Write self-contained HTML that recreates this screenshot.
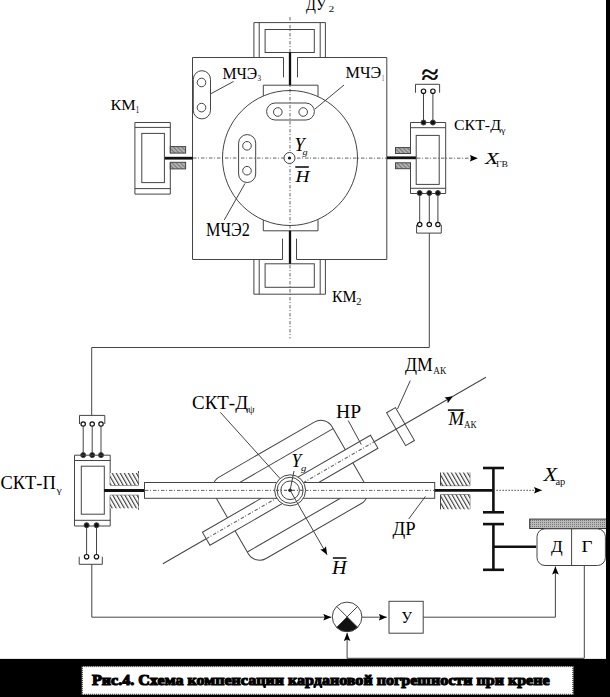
<!DOCTYPE html><html><head><meta charset="utf-8"><style>
html,body{margin:0;padding:0;background:#fff;width:610px;height:697px;overflow:hidden}
svg{display:block}
text{font-family:"Liberation Serif",serif;fill:#111}
.it{font-style:italic}
</style></head><body>
<svg width="610" height="697" viewBox="0 0 610 697">
<defs>
<pattern id="hatch" patternUnits="userSpaceOnUse" width="3.5" height="3.5" patternTransform="rotate(-30)">
<rect width="3.5" height="3.5" fill="#fff"/><line x1="0.6" y1="0" x2="0.6" y2="3.5" stroke="#222" stroke-width="1"/></pattern>
<pattern id="hatchs" patternUnits="userSpaceOnUse" width="3" height="3" patternTransform="rotate(-45)">
<rect width="3" height="3" fill="#b0b0b0"/><line x1="0.5" y1="0" x2="0.5" y2="3" stroke="#777" stroke-width="1"/></pattern>
<pattern id="dots" patternUnits="userSpaceOnUse" width="2" height="2">
<rect width="2" height="2" fill="#bbb"/><rect width="1" height="1" fill="#777"/></pattern>
<marker id="arr" markerWidth="9" markerHeight="8" refX="8" refY="3.3" orient="auto" markerUnits="userSpaceOnUse">
<path d="M0,0 L8,3.3 L0,6.6 L1.4,3.3 Z" fill="#000"/></marker>
</defs>
<g fill="none" stroke="#444" stroke-width="1">

<line x1="290" y1="17" x2="290" y2="338.5" stroke-dasharray="3.5 1.5 1 2" stroke="#666"/>
<line x1="193" y1="158" x2="477.8" y2="158.2" stroke-dasharray="3.5 1.5 1 2" stroke="#666" marker-end="url(#arr)"/>
<path d="M253.9,57.5 V22.6 H325.4 V57.5"/>
<path d="M259.2,57.5 V22.6 M320.2,57.5 V22.6"/>
<rect x="265.1" y="29.5" width="49.2" height="23"/>
<path d="M253.9,259.5 V294.2 H325.4 V259.5"/>
<path d="M259.2,259.5 V294.2 M320.2,259.5 V294.2"/>
<rect x="265.1" y="263.8" width="49.2" height="23.5"/>
<path d="M283.5,77.4 V57.5 H192.5 V259.5 H282.5 V238.6"/>
<path d="M297.5,77.4 V57.5 H386.8 V259.5 H296.5 V238.6"/>
<path d="M263.3,96.0 V85.2 H318 V96.6"/>
<path d="M263.3,220.0 V230.8 H318 V219.4"/>
<circle cx="290" cy="158" r="67.5"/>
<rect x="193.3" y="70.7" width="17.2" height="48.2" rx="8.6"/>
<circle cx="201.5" cy="82.5" r="4.3"/><circle cx="201.5" cy="107.6" r="4.3"/>
<rect x="266.6" y="103" width="47.8" height="17" rx="8.5"/>
<circle cx="277.8" cy="112" r="4.3"/><circle cx="303.2" cy="112" r="4.3"/>
<rect x="238.6" y="134.6" width="17.1" height="47.9" rx="8.5"/>
<circle cx="247" cy="145.8" r="4.3"/><circle cx="247" cy="170.7" r="4.3"/>
<line x1="210.9" y1="93.7" x2="233.5" y2="81.5"/>
<line x1="315" y1="109" x2="344" y2="85"/>
<line x1="245" y1="183.4" x2="224.3" y2="219.9"/>
<circle cx="289.5" cy="158" r="5.5" fill="#fff"/>
<circle cx="289.5" cy="158" r="1.6" fill="#111" stroke="none"/>
<line x1="290" y1="52.5" x2="290" y2="85.2" stroke="#111" stroke-width="2.3"/>
<line x1="290" y1="230.8" x2="290" y2="263.8" stroke="#111" stroke-width="2.3"/>
<line x1="164.4" y1="158.2" x2="192.8" y2="158.2" stroke="#111" stroke-width="2.8"/>
<line x1="387" y1="157.8" x2="416.2" y2="157.8" stroke="#111" stroke-width="2.8"/>
<path d="M170.3,152.7 V122.5 H134.9 V194.1 H170.3 V162.3"/>
<line x1="134.9" y1="127.4" x2="170.3" y2="127.4"/><line x1="134.9" y1="188.6" x2="170.3" y2="188.6"/>
<rect x="141.8" y="133.4" width="22.6" height="49.2"/>
<rect x="170.3" y="146.6" width="15.3" height="6.5" fill="url(#hatchs)"/>
<rect x="170.3" y="162.3" width="15.3" height="6.6" fill="url(#hatchs)"/>
<path d="M410.5,153.5 V122.5 H445.7 V193.5 H410.5 V162.8"/>
<line x1="410.5" y1="127.7" x2="445.7" y2="127.7"/><line x1="410.5" y1="188.3" x2="445.7" y2="188.3"/>
<rect x="416.2" y="135.4" width="23" height="49"/>
<rect x="395.5" y="147.6" width="15" height="5.9" fill="url(#hatchs)"/>
<rect x="395.5" y="162.8" width="15" height="5.9" fill="url(#hatchs)"/>
<path d="M415.5,92.7 V84.3 H439.6 V92.7"/>
<line x1="423.5" y1="93.3" x2="423.5" y2="122.5"/><line x1="432.9" y1="93.3" x2="432.9" y2="122.5"/>
<circle cx="423.5" cy="91.2" r="2.2" fill="#fff" stroke="#111" stroke-width="1.2"/><circle cx="432.9" cy="91.2" r="2.2" fill="#fff" stroke="#111" stroke-width="1.2"/>
<circle cx="423.5" cy="122.5" r="2.5" fill="#111"/><circle cx="432.9" cy="122.5" r="2.5" fill="#111"/>
<path d="M416.6,224.8 V233.1 H441.3 V224.8"/>
<line x1="419.7" y1="193" x2="419.7" y2="222.3"/>
<circle cx="419.7" cy="224.5" r="2.2" fill="#fff" stroke="#111" stroke-width="1.2"/>
<circle cx="419.7" cy="193" r="2.5" fill="#111"/>
<line x1="429.3" y1="193" x2="429.3" y2="222.3"/>
<circle cx="429.3" cy="224.5" r="2.2" fill="#fff" stroke="#111" stroke-width="1.2"/>
<circle cx="429.3" cy="193" r="2.5" fill="#111"/>
<line x1="437.9" y1="193" x2="437.9" y2="222.3"/>
<circle cx="437.9" cy="224.5" r="2.2" fill="#fff" stroke="#111" stroke-width="1.2"/>
<circle cx="437.9" cy="193" r="2.5" fill="#111"/>
<path d="M429.3,233.1 V347.5 H91.7 V415.4"/>
<path d="M79.5,424 V415.4 H104.8 V424"/>
<line x1="83.2" y1="426.2" x2="83.2" y2="455.1"/>
<circle cx="83.2" cy="424" r="2.2" fill="#fff" stroke="#111" stroke-width="1.2"/>
<circle cx="83.2" cy="455.1" r="2.5" fill="#111"/>
<line x1="92.2" y1="426.2" x2="92.2" y2="455.1"/>
<circle cx="92.2" cy="424" r="2.2" fill="#fff" stroke="#111" stroke-width="1.2"/>
<circle cx="92.2" cy="455.1" r="2.5" fill="#111"/>
<line x1="101" y1="426.2" x2="101" y2="455.1"/>
<circle cx="101" cy="424" r="2.2" fill="#fff" stroke="#111" stroke-width="1.2"/>
<circle cx="101" cy="455.1" r="2.5" fill="#111"/>
<path d="M110.2,485.1 V455.2 H74.5 V526 H110.2 V495.3"/>
<line x1="74.5" y1="460.5" x2="110.2" y2="460.5"/><line x1="74.5" y1="520.3" x2="110.2" y2="520.3"/>
<rect x="81.3" y="466.2" width="23" height="48"/>
<path d="M110.2,485.1 H138.5 V471.1" /><rect x="110.2" y="473" width="28.3" height="12.1" fill="url(#hatch)" stroke="none"/>
<path d="M110.2,495.3 H138.5 V509.7" /><rect x="110.2" y="495.3" width="28.3" height="13" fill="url(#hatch)" stroke="none"/>
<line x1="104.1" y1="490.5" x2="144.5" y2="490.5" stroke="#111" stroke-width="2.8"/>
<path d="M79.2,556.7 V564.3 H102.3 V556.7"/>
<line x1="86.6" y1="525.2" x2="86.6" y2="554.5"/>
<circle cx="86.6" cy="556.7" r="2.2" fill="#fff" stroke="#111" stroke-width="1.2"/>
<circle cx="86.6" cy="525.2" r="2.5" fill="#111"/>
<line x1="96.5" y1="525.2" x2="96.5" y2="554.5"/>
<circle cx="96.5" cy="556.7" r="2.2" fill="#fff" stroke="#111" stroke-width="1.2"/>
<circle cx="96.5" cy="525.2" r="2.5" fill="#111"/>
<path d="M91.8,564.3 V617.2 H331.3" marker-end="url(#arr)"/>
<g transform="translate(290.2,490.3) rotate(-30)">
<rect x="-68" y="-47" width="136" height="94" rx="13" fill="#fff"/>
<line x1="-68" y1="-32" x2="68" y2="-32"/><line x1="-68" y1="32" x2="68" y2="32"/>
<line x1="-147" y1="0" x2="-97" y2="0"/>
<line x1="97" y1="0" x2="188" y2="0" marker-end="url(#arr)"/>
<line x1="187" y1="0" x2="226" y2="0"/>
<rect x="-97" y="-7.5" width="194" height="15" fill="#fff"/>
<line x1="-97" y1="0" x2="97" y2="0" stroke-dasharray="3.5 1.5 1 2" stroke="#666"/>
<rect x="122.3" y="-19" width="10.2" height="38"/>
</g>
<rect x="144.5" y="482.5" width="290.2" height="15.8" fill="#fff"/>
<line x1="145" y1="490.4" x2="434.7" y2="490.4" stroke-dasharray="3.5 1.5 1 2" stroke="#666"/>
<circle cx="290.1" cy="490.3" r="15.5" fill="#fff"/>
<circle cx="290.1" cy="490.3" r="13"/>
<circle cx="290.1" cy="490.3" r="9.3"/>
<line x1="276" y1="490.3" x2="304" y2="490.3" stroke-dasharray="3 2 1 2"/>
<circle cx="290.1" cy="490.3" r="1.8" fill="#111" stroke="none"/>
<line x1="290.1" y1="490.3" x2="327.1" y2="554.8" marker-end="url(#arr)"/>
<line x1="290.1" y1="490.3" x2="294" y2="471"/>
<line x1="220.4" y1="412.4" x2="280" y2="478.5"/>
<line x1="348.2" y1="420.5" x2="361.3" y2="444.6"/>
<line x1="410.3" y1="380.5" x2="397.5" y2="409"/>
<line x1="408.7" y1="519" x2="425.4" y2="496.4"/>
<line x1="434.7" y1="490.3" x2="493.4" y2="490.3" stroke="#111" stroke-width="2.8"/>
<path d="M440.5,485.6 H469.8 V472.5"/><rect x="440.5" y="472.5" width="29.3" height="13.1" fill="url(#hatch)" stroke="none"/>
<path d="M440.5,494.8 H469.8 V509.3"/><rect x="440.5" y="494.8" width="29.3" height="14.5" fill="url(#hatch)" stroke="none"/>
<line x1="440.5" y1="472.5" x2="440.5" y2="485.6"/><line x1="440.5" y1="494.8" x2="440.5" y2="509.3"/>
<g stroke="#111" stroke-width="2.6">
<line x1="493.4" y1="468" x2="493.4" y2="512.3"/><line x1="483" y1="468" x2="504" y2="468"/><line x1="483" y1="512.3" x2="504" y2="512.3"/>
<line x1="493.4" y1="524.1" x2="493.4" y2="569.8"/><line x1="483" y1="524.1" x2="504" y2="524.1"/><line x1="483" y1="569.8" x2="504" y2="569.8"/>
<line x1="493.4" y1="546.8" x2="536.2" y2="546.8"/>
</g>
<line x1="493.4" y1="490.3" x2="542" y2="490.3" stroke-dasharray="1.5 1.5" marker-end="url(#arr)"/>
<rect x="529.7" y="519.1" width="80.3" height="9.4" fill="url(#dots)" stroke="#333"/>
<rect x="537" y="528.8" width="68.4" height="36.7" rx="8" fill="#fff"/>
<line x1="571.6" y1="528.5" x2="571.6" y2="565.4"/>
<path d="M555.4,617.2 V566.5" marker-end="url(#arr)"/>
<line x1="584.3" y1="565.4" x2="584.3" y2="658"/>
<circle cx="347.1" cy="616.9" r="14.8" fill="#fff"/>
<path d="M347.1,616.9 L357.57,627.37 A14.8,14.8 0 0 1 336.63,627.37 Z" fill="#111"/>
<line x1="336.6" y1="606.4" x2="357.6" y2="627.4"/>
<line x1="357.6" y1="606.4" x2="336.6" y2="627.4"/>
<line x1="361.9" y1="617.2" x2="386.8" y2="617.2" marker-end="url(#arr)"/>
<rect x="389" y="601.3" width="34.2" height="31.9"/>
<path d="M423.2,617.2 H555.4"/>
<line x1="347.1" y1="658.5" x2="347.1" y2="633" marker-end="url(#arr)"/>
<line x1="347.1" y1="658.3" x2="584.3" y2="658.3"/>
</g>
<text x="306.0" y="9.8" font-size="17.2" textLength="20.24" lengthAdjust="spacingAndGlyphs" style="fill:#000;">ДУ</text>
<text x="222.5" y="78.7" font-size="16.99" textLength="34.79" lengthAdjust="spacingAndGlyphs" style="fill:#000;">МЧЭ</text>
<text x="345.5" y="77.7" font-size="16.99" textLength="35.59" lengthAdjust="spacingAndGlyphs" style="fill:#000;">МЧЭ</text>
<text x="206.0" y="235.6" font-size="17.93" textLength="43.75" lengthAdjust="spacingAndGlyphs" style="fill:#000;">МЧЭ2</text>
<text x="110.5" y="110.1" font-size="14.9" textLength="25.31" lengthAdjust="spacingAndGlyphs" style="fill:#000;">КМ</text>
<text x="332.0" y="302.3" font-size="15.77" textLength="24.51" lengthAdjust="spacingAndGlyphs" style="fill:#000;">КМ</text>
<text x="454.0" y="130.1" font-size="14.61" textLength="46.96" lengthAdjust="spacingAndGlyphs" style="fill:#000;">СКТ-Д</text>
<text x="485.0" y="163.9" font-size="17.18" textLength="13.59" lengthAdjust="spacingAndGlyphs" style="fill:#000;font-style:italic;">X</text>
<text x="294.5" y="150.6" font-size="18.59" textLength="10.22" lengthAdjust="spacingAndGlyphs" style="fill:#000;font-style:italic;">Y</text>
<text x="295.5" y="182" font-size="17.62" textLength="14.0" lengthAdjust="spacingAndGlyphs" style="fill:#000;font-style:italic;">H</text>
<text x="0.5" y="489.1" font-size="18.68" textLength="55.3" lengthAdjust="spacingAndGlyphs" style="fill:#000;">СКТ-П</text>
<text x="192.0" y="409" font-size="18.42" textLength="56.05" lengthAdjust="spacingAndGlyphs" style="fill:#000;">СКТ-Д</text>
<text x="336.0" y="418.3" font-size="18.67" textLength="25.06" lengthAdjust="spacingAndGlyphs" style="fill:#000;">НР</text>
<text x="405.0" y="371" font-size="18.69" textLength="27.68" lengthAdjust="spacingAndGlyphs" style="fill:#000;">ДМ</text>
<text x="448.5" y="424.8" font-size="18.26" textLength="15.6" lengthAdjust="spacingAndGlyphs" style="fill:#000;font-style:italic;">M</text>
<text x="291.5" y="466.6" font-size="18.59" textLength="9.82" lengthAdjust="spacingAndGlyphs" style="fill:#000;font-style:italic;">Y</text>
<text x="392.5" y="534.6" font-size="17.92" textLength="23.12" lengthAdjust="spacingAndGlyphs" style="fill:#000;">ДР</text>
<text x="332.0" y="573.5" font-size="19.78" textLength="14.6" lengthAdjust="spacingAndGlyphs" style="fill:#000;font-style:italic;">H</text>
<text x="543.5" y="480.8" font-size="19.18" textLength="13.6" lengthAdjust="spacingAndGlyphs" style="fill:#000;font-style:italic;">X</text>
<text x="551.0" y="551.7" font-size="16.1" textLength="11.67" lengthAdjust="spacingAndGlyphs" style="fill:#000;">Д</text>
<text x="581.5" y="551.7" font-size="16.1" textLength="10.95" lengthAdjust="spacingAndGlyphs" style="fill:#000;">Г</text>
<text x="401.5" y="623" font-size="15.9" textLength="10.49" lengthAdjust="spacingAndGlyphs" style="fill:#000;">У</text>
<text x="328.4" y="12.4" font-size="9.16" textLength="5.75" lengthAdjust="spacingAndGlyphs" style="fill:#111;">2</text>
<text x="257.4" y="81.3" font-size="9.16" textLength="3.55" lengthAdjust="spacingAndGlyphs" style="fill:#111;">3</text>
<text x="382.0" y="80.6" font-size="8.41" textLength="2.0" lengthAdjust="spacingAndGlyphs" style="fill:#111;">1</text>
<text x="135.7" y="113.0" font-size="9.53" textLength="3.45" lengthAdjust="spacingAndGlyphs" style="fill:#111;">1</text>
<text x="356.3" y="304.7" font-size="9.64" textLength="5.25" lengthAdjust="spacingAndGlyphs" style="fill:#111;">2</text>
<text x="501.0" y="132.5" font-size="7.5" textLength="4.55" lengthAdjust="spacingAndGlyphs" style="fill:#111;">γ</text>
<text x="496.0" y="167.2" font-size="9.22" textLength="12.08" lengthAdjust="spacingAndGlyphs" style="fill:#111;">ГВ</text>
<text x="302.6" y="154.6" font-size="9" textLength="5.1" lengthAdjust="spacingAndGlyphs" style="fill:#111;font-style:italic;">g</text>
<text x="56.4" y="492.5" font-size="8.5" textLength="5.28" lengthAdjust="spacingAndGlyphs" style="fill:#111;">γ</text>
<text x="247.9" y="412.5" font-size="11" textLength="6.53" lengthAdjust="spacingAndGlyphs" style="fill:#111;">ψ</text>
<text x="433.3" y="373.9" font-size="9.34" textLength="12.91" lengthAdjust="spacingAndGlyphs" style="fill:#111;">АК</text>
<text x="463.9" y="427.9" font-size="10.47" textLength="12.51" lengthAdjust="spacingAndGlyphs" style="fill:#111;">АК</text>
<text x="300.9" y="470.6" font-size="9" textLength="5.3" lengthAdjust="spacingAndGlyphs" style="fill:#111;font-style:italic;">g</text>
<text x="555.4" y="484.8" font-size="9.76" textLength="9.86" lengthAdjust="spacingAndGlyphs" style="fill:#111;">ар</text>
<text x="421.6" y="83.5" font-size="28.2" textLength="17.18" lengthAdjust="spacingAndGlyphs" style="fill:#000;stroke:#000;stroke-width:0.5;">≈</text>
<line x1="295.3" y1="167" x2="308.8" y2="167" stroke="#111" stroke-width="1.6"/>
<line x1="447.9" y1="410.1" x2="463.6" y2="410.1" stroke="#111" stroke-width="1.6"/>
<line x1="332.9" y1="558" x2="346.3" y2="558" stroke="#111" stroke-width="1.6"/>
<rect x="606" y="0" width="4" height="697" fill="#000"/>
<rect x="0" y="658.9" width="610" height="38.1" fill="#000"/>
<rect x="81.8" y="666.1" width="491.6" height="28.7" fill="#fff"/>
<rect x="82.3" y="666.6" width="490.6" height="27.7" fill="none" stroke="#000" stroke-width="1" stroke-dasharray="1 1"/>
<text x="92.0" y="684.8" font-size="15.5" textLength="457.63" lengthAdjust="spacingAndGlyphs" style="fill:#000;font-weight:bold;stroke:#000;stroke-width:1.2;">Рис.4. Схема компенсации кардановой погрешности  при крене</text>
</svg></body></html>
